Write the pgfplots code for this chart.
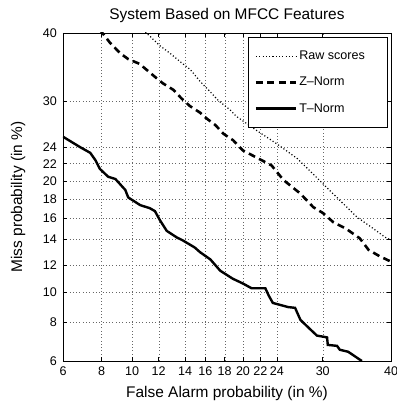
\documentclass[border=0pt]{standalone}
\usepackage{fontspec}
\setmainfont{Liberation Sans}
\usepackage{pgfplots}
\pgfplotsset{compat=1.18}

% probit (normal deviate) transform of a percentage, Abramowitz-Stegun 26.2.23 (p<0.5)
\newcommand{\probitcode}[1]{%
  \pgfmathsetmacro{\probT}{sqrt(-2*ln((#1)/100))}%
  \pgfmathparse{-(\probT-(2.515517+0.802853*\probT+0.010328*\probT*\probT)/(1+1.432788*\probT+0.189269*\probT*\probT+0.001308*\probT*\probT*\probT))}%
}

\begin{document}
\begin{tikzpicture}
\useasboundingbox (-63bp,-42bp) rectangle (334bp,361bp);
\begin{axis}[
  scale only axis,
  width=328bp, height=328bp,
  x coord trafo/.code={\probitcode{#1}},
  y coord trafo/.code={\probitcode{#1}},
  xmin=6, xmax=40, ymin=6, ymax=40,
  xtick={6,8,10,12,14,16,18,20,22,24,30,40},
  xticklabels={6,8,10,12,14,16,18,20,22,24,30,40},
  ytick={6,8,10,12,14,16,18,20,22,24,30,40},
  yticklabels={6,8,10,12,14,16,18,20,22,24,30,40},
  /pgf/number format/assume math mode=true,
  tick label style={font=\fontsize{12.6}{14}\selectfont},
  xticklabel style={inner sep=1bp, yshift=-5bp},
  yticklabel style={inner sep=1bp, xshift=-5bp},
  major tick length=4.5bp,
  tick style={black, line width=0.5bp},
  axis line style={line width=0.6bp},
  grid=major,
  major grid style={black!60, line width=0.45bp, dash pattern=on 0.7bp off 2.6bp},
  title={System Based on MFCC Features},
  title style={font=\fontsize{15.5}{18}\selectfont, at={(axis description cs:0.5,1.052)}, anchor=center, yshift=-6pt},
  xlabel={False Alarm probability (in \%)},
  ylabel={Miss probability (in \%)},
  label style={font=\fontsize{15.5}{18}\selectfont},
  xlabel style={at={(axis description cs:0.5,-0.0976)}, anchor=center},
  ylabel style={at={(axis description cs:-0.137,0.5)}, anchor=center},
  legend style={at={(0.988,0.988)}, anchor=north east, draw=black, fill=white,
    font=\fontsize{12.6}{15}\selectfont, row sep=12bp, inner xsep=6bp, inner ysep=12bp,
    line width=0.5bp},
  legend cell align=left,
  legend image code/.code={\draw[#1] (0bp,0bp) -- (40bp,0bp);},
]
\addplot[black, line width=1.2bp, dash pattern=on 1.1bp off 2.2bp] coordinates {
(10.8,40.5) (12.1,38.05) (12.9,36.95) (13.8,35.65) (14.7,34.5) (15.6,32.8) (16.6,31.3)
(17.4,30.1) (18.6,28.85) (19.3,27.95) (21.5,26.15) (24.0,24.4) (26.6,22.6) (28.7,20.8)
(30.5,19.35) (32.4,17.95) (34.9,16.25) (37.3,15.17) (39.1,14.37) (40.5,13.97)
};
\addlegendentry{Raw scores\hspace*{14bp}}
\addplot[black, line width=2.6bp, dash pattern=on 7bp off 4.5bp] coordinates {
(7.95,40.5) (8.55,38.55) (9.2,36.95) (9.75,36.05) (10.55,35.35) (11.05,34.5) (11.8,33.3)
(12.35,32.5) (13.2,31.6) (13.9,30.4) (14.65,29.35) (15.6,28.45) (16.25,27.65) (17.1,26.8)
(17.95,25.65) (18.95,24.85) (20.0,23.6) (22.0,22.5) (23.35,21.8) (24.8,20.15) (27,18.65)
(28.7,17.25) (30.05,16.65) (31.5,15.75) (33.3,15.15) (35.3,14.27) (36.6,13.27) (38.3,12.72)
(40.5,12.17)
};
\addlegendentry{Z--Norm}
\addplot[black, line width=2.4bp] coordinates {
(6,25.3) (6.85,24.0) (7.4,23.3) (7.7,22.4) (7.95,21.4) (8.45,20.5) (8.9,20.25) (9.55,19.05)
(9.75,18.25) (10.6,17.45) (11.3,17.15) (11.7,16.85) (12.1,15.95) (12.65,14.95) (13.5,14.35)
(14.0,14.1) (15.1,13.47) (15.6,13.07) (16.6,12.47) (17.6,11.57) (18.9,10.97) (20.0,10.62)
(21.0,10.27) (22.6,10.27) (23.0,9.77) (23.5,9.27) (25.4,9.0) (26.3,8.95) (27,8.2) (28.3,7.65)
(29.2,7.3) (30.6,7.2) (30.7,6.8) (32,6.75) (32.4,6.55) (33.6,6.45) (35.6,6.0)
};
\addlegendentry{T--Norm}
\end{axis}
\end{tikzpicture}
\end{document}
